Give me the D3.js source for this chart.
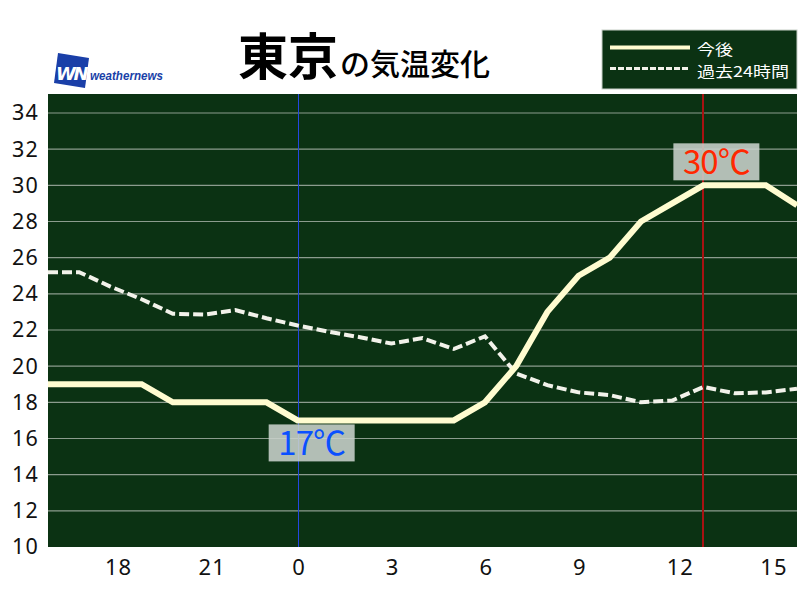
<!DOCTYPE html>
<html><head><meta charset="utf-8">
<script src="https://cdn.jsdelivr.net/npm/d3@7/dist/d3.min.js"></script>
<style>body{margin:0;background:#fff}svg{display:block}</style>
</head><body><svg id="c" width="800" height="600"></svg>
<script>
const hours = [-8,-7,-6,-5,-4,-3,-2,-1,0,1,2,3,4,5,6,7,8,9,10,11,12,13,14,15,16];
const forecast = [19,19,19,19,18,18,18,18,17,17,17,17,17,17,18,20,23,25,26,28,29,30,30,30,28.9];
const past24 = [25.2,25.2,24.4,23.7,22.9,22.85,23.1,22.65,22.25,21.9,21.6,21.25,21.55,20.95,21.65,19.6,18.95,18.55,18.4,18.0,18.1,18.85,18.5,18.55,18.75];
const xTickValues = [-6,-3,0,3,6,9,12,15];
const xTickLabels = ["18","21","0","3","6","9","12","15"];
const yTickValues = [10,12,14,16,18,20,22,24,26,28,30,32,34];
const legendLabels = ["今後","過去24時間"];
const minLabel = {hour:0, value:17, text:"17℃"};
const maxLabel = {hour:13, value:30, text:"30℃"};

const svg = d3.select("#c");
const L=48, R=797, T=94, B=547;
const x = d3.scaleLinear().domain([-8,16]).range([L,R]);
const y = d3.scaleLinear().domain([10,35.05]).range([B,T]);
const numFont = "'Noto Sans','DejaVu Sans',sans-serif";
const cjk = "'Noto Sans CJK JP','Noto Sans',sans-serif";

svg.append("rect").attr("x",L).attr("y",T).attr("width",R-L).attr("height",B-T).attr("fill","#0b3213");

// grid
svg.append("g").selectAll("line").data(yTickValues.filter(v=>v>10)).join("line")
  .attr("x1",L).attr("x2",R).attr("y1",d=>y(d)).attr("y2",d=>y(d))
  .attr("stroke","#8c9c8e").attr("stroke-width",1.2);

// y axis labels
const yAxis = d3.axisLeft(y).tickValues(yTickValues).tickSize(0).tickPadding(9);
const gy = svg.append("g").attr("transform",`translate(${L},0)`).call(yAxis);
gy.select(".domain").remove();
gy.selectAll("text").attr("font-family",numFont).attr("font-size",21.5).attr("letter-spacing",1.2).attr("fill","#111");

// x axis labels
const xAxis = d3.axisBottom(x).tickValues(xTickValues).tickFormat((d,i)=>xTickLabels[i]).tickSize(0).tickPadding(8);
const gx = svg.append("g").attr("transform",`translate(0,${B})`).call(xAxis);
gx.select(".domain").remove();
gx.selectAll("text").attr("font-family",numFont).attr("font-size",22).attr("letter-spacing",1).attr("fill","#111")
  .attr("text-anchor","start").attr("dx",-6).attr("dy","0.9em");

// vertical markers
svg.append("line").attr("x1",Math.round(x(minLabel.hour))+0.5).attr("x2",Math.round(x(minLabel.hour))+0.5).attr("y1",T).attr("y2",B)
  .attr("stroke","#2448e0").attr("stroke-width",1);
svg.append("line").attr("x1",Math.round(x(maxLabel.hour))).attr("x2",Math.round(x(maxLabel.hour))).attr("y1",T).attr("y2",B)
  .attr("stroke","#a81212").attr("stroke-width",2);

const line = d3.line().x((d,i)=>x(hours[i])).y(d=>y(d));
svg.append("path").datum(past24).attr("d",line).attr("fill","none")
  .attr("stroke","#f2f2ea").attr("stroke-width",4).attr("stroke-dasharray","10,4");
svg.append("path").datum(forecast).attr("d",line).attr("fill","none")
  .attr("stroke","#fffcd0").attr("stroke-width",6).attr("stroke-linejoin","miter");

// labels
function tempLabel(lb, color, boxX, boxY){
  const g = svg.append("g");
  g.append("rect").attr("x",x(lb.hour)+boxX).attr("y",y(lb.value)+boxY).attr("width",86).attr("height",37)
    .attr("fill","#c9d2cc").attr("opacity",0.88);
  g.append("text").attr("x",x(lb.hour)+boxX+43).attr("y",y(lb.value)+boxY+31)
    .attr("text-anchor","middle").attr("font-family",cjk).attr("font-size",33).attr("letter-spacing",-1)
    .attr("fill",color).text(lb.text);
}
tempLabel(minLabel,"#0a50ff",-29,4);
tempLabel(maxLabel,"#ff2800",-30,-42);

// title
const title = svg.append("text").attr("x",238).attr("y",75).attr("font-family",cjk).attr("fill","#000");
title.append("tspan").attr("font-size",50).attr("font-weight",700).text("東京");
title.append("tspan").attr("font-size",30).attr("font-weight",500).attr("dx",2).text("の気温変化");

// logo
const logo = svg.append("g");
logo.append("path").attr("d","M58,53 L89,58 L85,88 L54,83 Z").attr("fill","#1a3fa8");
logo.append("text").attr("x",71).attr("y",80).attr("text-anchor","middle").attr("font-family","'DejaVu Sans',sans-serif")
  .attr("font-size",18).attr("font-weight",700).attr("font-style","italic").attr("letter-spacing",-2.5).attr("fill","#fff").text("WN");
logo.append("text").attr("x",90).attr("y",80).attr("font-family","'Liberation Sans',sans-serif").attr("font-size",13.5)
  .attr("font-weight",700).attr("font-style","italic").attr("fill","#1a3fa8")
  .attr("textLength",73).attr("lengthAdjust","spacingAndGlyphs").text("weathernews");

// legend
const lg = svg.append("g");
lg.append("rect").attr("x",602).attr("y",30).attr("width",195).attr("height",59).attr("fill","#0b3213")
  .attr("stroke","#c8cfc8").attr("stroke-width",1);
lg.append("line").attr("x1",610).attr("x2",690).attr("y1",47.5).attr("y2",47.5).attr("stroke","#fffcd0").attr("stroke-width",4);
lg.append("line").attr("x1",610).attr("x2",690).attr("y1",68.5).attr("y2",68.5).attr("stroke","#f2f2ea").attr("stroke-width",3).attr("stroke-dasharray","6,2");
const legendWidths = [36, 92];
lg.selectAll("text.lt").data(legendLabels).join("text").attr("class","lt")
  .attr("font-family",cjk).attr("font-size",15).attr("fill","#fff")
  .attr("x",697).attr("y",(d,i)=>54.5+i*22)
  .attr("textLength",(d,i)=>legendWidths[i]).attr("lengthAdjust","spacingAndGlyphs").text(d=>d);
</script></body></html>
